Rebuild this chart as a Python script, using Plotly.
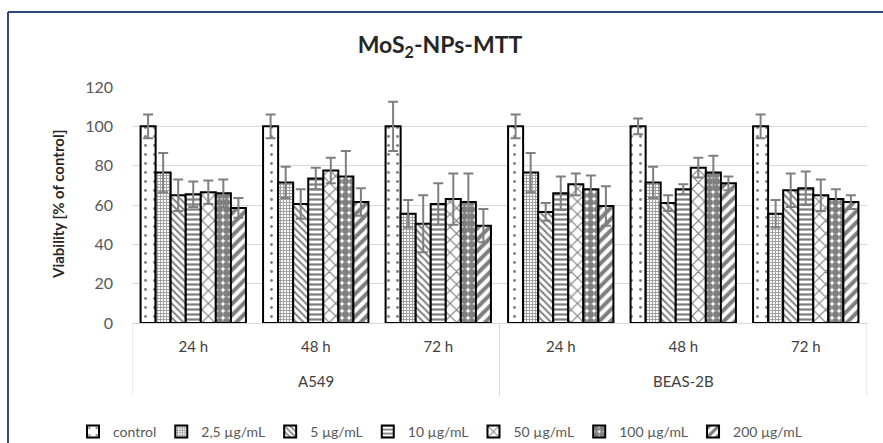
import plotly.graph_objects as go

cell_lines = ["A549", "BEAS-2B"]
times = ["24 h", "48 h", "72 h", "24 h", "48 h", "72 h"]
categories = ["A549 24 h", "A549 48 h", "A549 72 h", "BEAS-2B 24 h", "BEAS-2B 48 h", "BEAS-2B 72 h"]

series_names = ["control", "2,5 µg/mL", "5 µg/mL", "10 µg/mL", "50 µg/mL", "100 µg/mL", "200 µg/mL"]

control = [100, 100, 100, 100, 100, 100]
control_err = [6, 6, 12.5, 6, 4, 6]
c2_5 = [76.5, 71.5, 55.5, 76.5, 71.5, 55.5]
c2_5_err = [10, 8, 7, 10, 8, 7]
c5 = [65, 60.5, 50.5, 56.5, 61, 67.5]
c5_err = [8, 7.5, 14.5, 4.5, 4, 8.5]
c10 = [65.5, 73.5, 60.5, 66, 68, 68.5]
c10_err = [6.5, 5.5, 10.5, 8.5, 2.5, 8.5]
c50 = [66.5, 77.5, 63, 70.5, 79, 65]
c50_err = [6, 6.5, 13, 5.5, 5, 8]
c100 = [66, 74.5, 61.5, 68, 76.5, 63]
c100_err = [7, 13, 14.5, 7, 8.5, 5]
c200 = [58.5, 61.5, 49.5, 59.5, 71, 61.5]
c200_err = [5, 7, 8.5, 10, 3.5, 3.5]

values = [control, c2_5, c5, c10, c50, c100, c200]
errors = [control_err, c2_5_err, c5_err, c10_err, c50_err, c100_err, c200_err]

patterns = [
    dict(shape=".", size=9, solidity=0.08, fgcolor="#000000", bgcolor="#ffffff"),
    dict(shape="+", size=3, solidity=0.6, fgcolor="#444444", bgcolor="#ffffff"),
    dict(shape="\\", size=5, solidity=0.4, fgcolor="#000000", bgcolor="#ffffff"),
    dict(shape="-", size=5, solidity=0.45, fgcolor="#000000", bgcolor="#ffffff"),
    dict(shape="x", size=9, solidity=0.25, fgcolor="#000000", bgcolor="#ffffff"),
    dict(shape=".", size=7, solidity=0.75, fgcolor="#000000", bgcolor="#ffffff"),
    dict(shape="/", size=8, solidity=0.5, fgcolor="#000000", bgcolor="#ffffff"),
]

FONT = "Lato"
fig = go.Figure()
for name, vals, errs, pat in zip(series_names, values, errors, patterns):
    fig.add_trace(go.Bar(
        name=name,
        x=categories,
        y=vals,
        marker=dict(color="#ffffff", line=dict(color="#000000", width=2), pattern=pat),
        error_y=dict(type="data", array=errs, visible=True, color="#7f7f7f", thickness=2, width=5),
    ))

L, R, T, B = 132, 16, 87, 120
W, H = 883, 443
pw, ph = W - L - R, H - T - B

def px(x):
    return (x - L) / pw

def py(y):
    return (H - B - y) / ph

annotations = [dict(text="<b>Viability [% of control]</b>", textangle=-90, xref="paper", yref="paper",
                    x=px(58), y=py(205), xanchor="center", yanchor="middle", showarrow=False,
                    font=dict(family=FONT, size=15, color="#262626"))]
for i, cl in enumerate(cell_lines):
    annotations.append(dict(text=cl, xref="x", yref="paper", x=1 + 3 * i, y=py(381),
                            xanchor="center", yanchor="middle", showarrow=False,
                            font=dict(family=FONT, size=15, color="#404040")))

shapes = [
    dict(type="line", xref="paper", yref="paper", x0=px(8), x1=px(8), y0=py(12), y1=py(460),
         line=dict(color="#2f4a7a", width=2)),
    dict(type="line", xref="paper", yref="paper", x0=px(8), x1=px(900), y0=py(12), y1=py(12),
         line=dict(color="#2f4a7a", width=2)),
]
for xd in [-0.5, 2.5, 5.5]:
    shapes.append(dict(type="line", xref="x", yref="paper", x0=xd, x1=xd, y0=0, y1=py(396),
                       line=dict(color="#d9d9d9", width=1)))

fig.update_layout(
    width=W, height=H,
    margin=dict(l=L, r=R, t=T, b=B, pad=0, autoexpand=False),
    paper_bgcolor="#ffffff", plot_bgcolor="#ffffff",
    barmode="group", bargap=0.14, bargroupgap=0,
    font=dict(family=FONT, size=15, color="#595959"),
    title=dict(text="<b>MoS<sub>2</sub>-NPs-MTT</b>", x=440 / W, xanchor="center",
               y=1 - 45 / H, yanchor="middle", font=dict(family=FONT, size=23, color="#262626")),
    showlegend=True,
    legend=dict(orientation="h", xref="container", yref="container", x=440 / W, xanchor="center",
                y=1 - 432 / H, yanchor="middle",
                font=dict(family=FONT, size=14, color="#595959"), itemwidth=30,
                traceorder="normal", tracegroupgap=0, bgcolor="rgba(0,0,0,0)"),
    xaxis=dict(type="category", range=[-0.5, 5.5], showgrid=False, showline=True, linecolor="#d9d9d9",
               linewidth=1, ticks="", tickvals=categories, ticktext=times, ticklabelstandoff=10,
               tickfont=dict(family=FONT, size=15, color="#404040")),
    yaxis=dict(range=[0, 120], dtick=20, showgrid=True, gridcolor="#d9d9d9", gridwidth=1,
               zeroline=False, showline=False, ticks="", ticklabelstandoff=18,
               tickfont=dict(family=FONT, size=16, color="#595959")),
    annotations=annotations,
    shapes=shapes,
)

fig.write_html("out.html")
